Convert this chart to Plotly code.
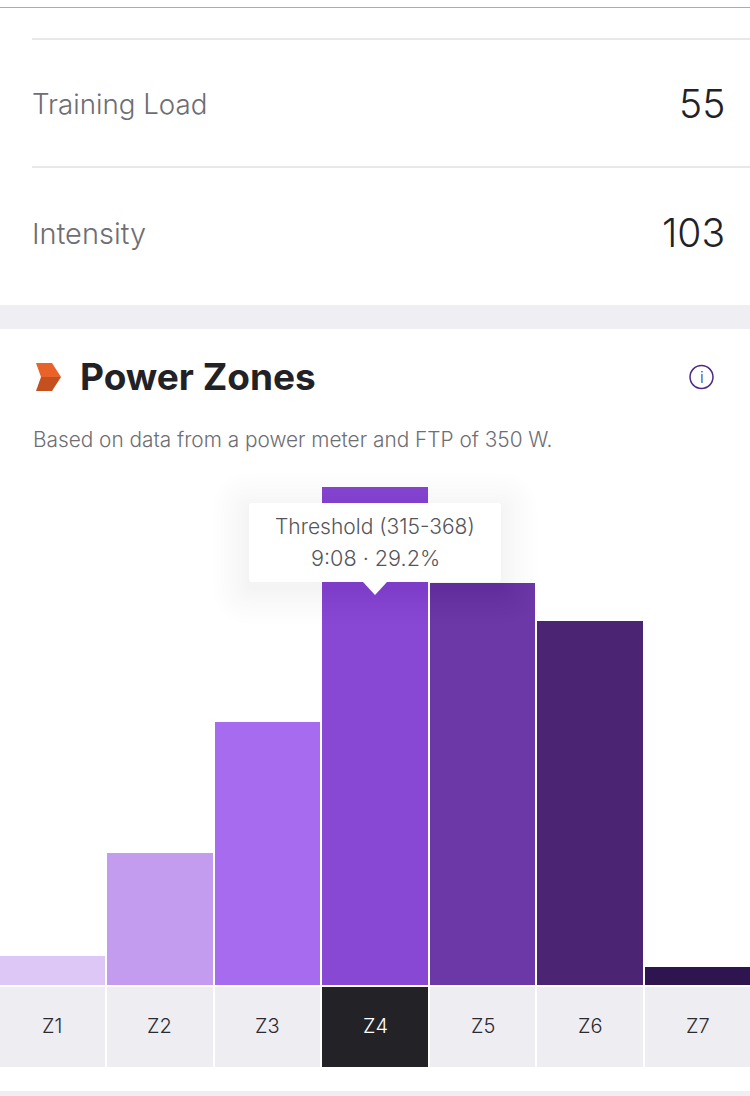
import plotly.graph_objects as go

zones = ["Z1", "Z2", "Z3", "Z4", "Z5", "Z6", "Z7"]
share_pct = [1.7, 7.74, 15.4, 29.2, 23.6, 21.36, 1.06]
bar_colors = ["#DDC7F6", "#C39CF0", "#A66BEE", "#8848D4", "#6C38A8", "#4C2474", "#2F154F"]
cell_values = [1, 1, 1, 1, 1, 1, 1]
cell_colors = ["#EEEEF2", "#EEEEF2", "#EEEEF2", "#232327", "#EEEEF2", "#EEEEF2", "#EEEEF2"]
cell_text = ["#2A2A30", "#2A2A30", "#2A2A30", "#FFFFFF", "#2A2A30", "#2A2A30", "#2A2A30"]
metric_names = ["Training Load", "Intensity"]
metric_values = ["55", "103"]

W, H = 750, 1096
FONT = "Inter"


def fy(y):
    return 1 - y / H


def fx(x):
    return x / W


def rect(x0, y0, x1, y1, color, opacity=1.0):
    return dict(type="rect", xref="paper", yref="paper", x0=fx(x0), x1=fx(x1), y0=fy(y1), y1=fy(y0),
                fillcolor=color, opacity=opacity, line=dict(width=0), layer="above")


def path(points, color):
    d = "M " + " L ".join(f"{fx(a):.5f},{fy(b):.5f}" for a, b in points) + " Z"
    return dict(type="path", xref="paper", yref="paper", path=d, fillcolor=color, line=dict(width=0), layer="above")


def rounded(x0, y0, x1, y1, r, color, opacity=1.0):
    def p(a, b):
        return f"{fx(a):.5f},{fy(b):.5f}"
    d = (f"M {p(x0 + r, y0)} L {p(x1 - r, y0)} Q {p(x1, y0)} {p(x1, y0 + r)} L {p(x1, y1 - r)} "
         f"Q {p(x1, y1)} {p(x1 - r, y1)} L {p(x0 + r, y1)} Q {p(x0, y1)} {p(x0, y1 - r)} "
         f"L {p(x0, y0 + r)} Q {p(x0, y0)} {p(x0 + r, y0)} Z")
    return dict(type="path", xref="paper", yref="paper", path=d, fillcolor=color, opacity=opacity,
                line=dict(width=0), layer="above")


def label(text, x, y, size, color, anchor="left", weight=400):
    return dict(text=text, xref="paper", yref="paper", x=fx(x), y=fy(y), xanchor=anchor, yanchor="middle",
                showarrow=False, font=dict(family=FONT, size=size, color=color, weight=weight))


fig = go.Figure()
fig.add_bar(x=zones, y=share_pct, marker=dict(color=bar_colors, line=dict(width=0)), width=0.981,
            xaxis="x", yaxis="y", hoverinfo="skip")
fig.add_bar(x=zones, y=cell_values, marker=dict(color=cell_colors, line=dict(width=0)), width=0.981,
            xaxis="x", yaxis="y2", hoverinfo="skip")

shapes = [
    rect(0, 7, 750, 8, "#ABABAB"),
    rect(32, 38, 750, 40, "#E8E8E8"),
    rect(32, 166, 750, 168, "#E8E8E8"),
    rect(0, 305, 750, 329, "#EFEFF3"),
    rect(0, 1091, 750, 1096, "#EFEFF3"),
    path([(36, 363), (52, 363), (61, 377), (41, 377)], "#E8622A"),
    path([(36, 391), (52, 391), (61, 377), (41, 377)], "#C4501F"),
    dict(type="circle", xref="paper", yref="paper", x0=fx(690), x1=fx(713), y0=fy(388.5), y1=fy(365.5),
         fillcolor="rgba(0,0,0,0)", line=dict(color="#4A2A86", width=1.5), layer="above"),
]
for grow in (36, 32, 28, 24, 20, 16, 13, 10, 7, 4, 2):
    shapes.append(rounded(249 - grow, 503 - grow + 6, 501 + grow, 582 + grow + 6, grow + 3, "#000000", 0.004))
shapes.append(rounded(249, 503, 501, 582, 3, "#FFFFFF"))
shapes.append(path([(363, 582), (387, 582), (375, 595)], "#FFFFFF"))

annotations = [
    label(metric_names[0], 30, 104, 27.7, "#6E6E73", weight=300),
    label(metric_values[0], 727, 103.5, 39, "#222226", "right", 300),
    label(metric_names[1], 30, 233, 29, "#6E6E73", weight=300),
    label(metric_values[1], 727, 232.5, 39, "#222226", "right", 300),
    label("Power Zones", 78, 376.5, 37, "#222226", weight=700),
    label("Based on data from a power meter and FTP of 350 W.", 30.5, 439, 20.8, "#6E6E73", weight=300),
    label("i", 701.5, 377, 16, "#4A2A86", "center", 300),
    label("Threshold (315-368)", 375, 526, 21, "#55555A", "center", 300),
    label("9:08 · 29.2%", 375, 558, 21.6, "#55555A", "center", 300),
]
for i, z in enumerate(zones):
    annotations.append(dict(text=z, x=z, xref="x", y=0.5, yref="y2 domain", yshift=1, xanchor="center",
                            yanchor="middle", showarrow=False,
                            font=dict(family=FONT, size=20, color=cell_text[i], weight=300)))

fig.update_layout(
    width=W, height=H, margin=dict(l=0, r=0, t=0, b=0),
    paper_bgcolor="#FFFFFF", plot_bgcolor="#FFFFFF",
    showlegend=False, bargap=0, shapes=shapes, annotations=annotations,
    xaxis=dict(visible=False, range=[-0.488, 6.488], type="category", anchor="y", domain=[0, 1]),
    yaxis=dict(visible=False, range=[0, 29.2], domain=[fy(985), fy(487)], anchor="x"),
    yaxis2=dict(visible=False, range=[0, 1], domain=[fy(1067), fy(987)], anchor="x"),
)
fig.write_html("out.html", config=dict(displayModeBar=False, staticPlot=True),
               post_script="document.body.style.margin='0';document.body.style.overflow='hidden';")
